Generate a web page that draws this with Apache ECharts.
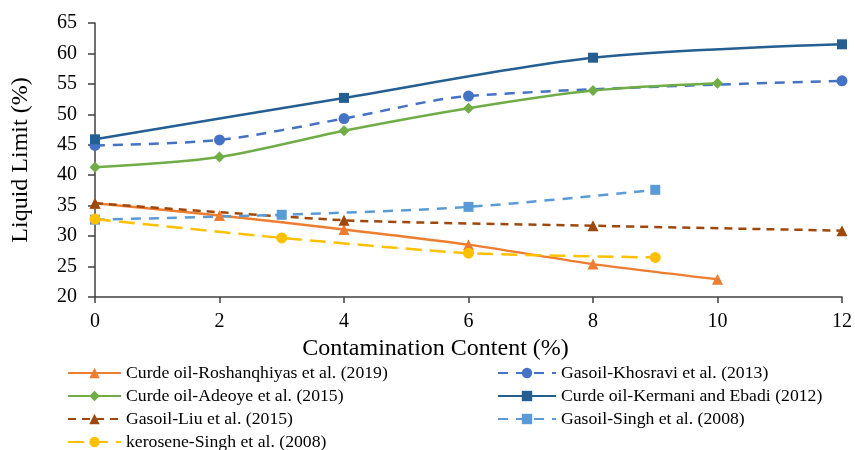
<!DOCTYPE html>
<html><head><meta charset="utf-8">
<script src="https://cdn.jsdelivr.net/npm/echarts@6/dist/echarts.min.js"></script>
<style>html,body{margin:0;padding:0;background:#fff}#c{width:855px;height:450px}</style>
</head><body><div id="c"></div>
<script>
const xTicks = [0, 2, 4, 6, 8, 10, 12];
const yTicks = [20, 25, 30, 35, 40, 45, 50, 55, 60, 65];

const roshanX = [0, 2, 4, 6, 8, 10];
const roshanY = [35.4, 33.4, 31.1, 28.6, 25.4, 22.9];
const khosraviX = [0, 2, 4, 6, 12];
const khosraviY = [44.9, 45.8, 49.3, 53.0, 55.5];
const adeoyeX = [0, 2, 4, 6, 8, 10];
const adeoyeY = [41.3, 43.0, 47.3, 51.0, 53.9, 55.1];
const kermaniX = [0, 4, 8, 12];
const kermaniY = [45.9, 52.7, 59.3, 61.5];
const liuX = [0, 4, 8, 12];
const liuY = [35.4, 32.6, 31.7, 30.9];
const singhGasX = [0, 3, 6, 9];
const singhGasY = [32.7, 33.5, 34.8, 37.6];
const keroX = [0, 3, 6, 9];
const keroY = [32.8, 29.7, 27.2, 26.5];

const names = [
  'Curde oil-Roshanqhiyas et al. (2019)',
  'Gasoil-Khosravi et al. (2013)',
  'Curde oil-Adeoye et al. (2015)',
  'Curde oil-Kermani and Ebadi (2012)',
  'Gasoil-Liu et al. (2015)',
  'Gasoil-Singh et al. (2008)',
  'kerosene-Singh et al. (2008)'
];

function pts(xs, ys) { return xs.map((x, i) => [x, ys[i]]); }

const font = 'Liberation Serif';
function mk(name, xs, ys, color, symbol, size, dashed, smooth, dashArr) {
  return {
    name, type: 'line', data: pts(xs, ys), smooth: smooth,
    symbol, symbolSize: size, showSymbol: true,
    itemStyle: { color },
    lineStyle: { color, width: 2.5, type: dashed ? dashArr : 'solid' },
    emphasis: { disabled: true }
  };
}

const chart = echarts.init(document.getElementById('c'));
chart.setOption({
  animation: false,
  backgroundColor: '#fff',
  grid: { left: 95, right: 12, top: 23, bottom: 153 },
  xAxis: {
    type: 'value', min: 0, max: 12, interval: 2,
    name: 'Contamination Content (%)', nameLocation: 'middle', nameGap: 32,
    nameTextStyle: { fontFamily: font, fontSize: 24, color: '#000', padding: [0, 66, 0, 0] },
    axisLine: { show: true, lineStyle: { color: '#404040', width: 1.5 } },
    axisTick: { show: true, length: 6, lineStyle: { color: '#404040', width: 1.5 } },
    axisLabel: { fontFamily: font, fontSize: 20, color: '#000', margin: 15 },
    splitLine: { show: false }
  },
  yAxis: {
    type: 'value', min: 20, max: 65, interval: 5,
    name: 'Liquid Limit (%)', nameLocation: 'middle', nameGap: 62,
    nameTextStyle: { fontFamily: font, fontSize: 24, color: '#000' },
    axisLine: { show: true, lineStyle: { color: '#404040', width: 1.5 } },
    axisTick: { show: true, length: 7, lineStyle: { color: '#404040', width: 1.5 } },
    axisLabel: { fontFamily: font, fontSize: 20, color: '#000', margin: 18 },
    splitLine: { show: false }
  },
  legend: [
    {
      left: 62, top: 359, height: 120, orient: 'vertical', itemGap: 5, itemWidth: 53, itemHeight: 13,
      data: [names[0], names[2], names[4], names[6]],
      textStyle: { fontFamily: font, fontSize: 17.7, color: '#000' }
    },
    {
      left: 492, top: 359, height: 120, orient: 'vertical', itemGap: 5, itemWidth: 58, itemHeight: 13,
      data: [names[1], names[3], names[5]],
      textStyle: { fontFamily: font, fontSize: 17.7, color: '#000' }
    }
  ],
  series: [
    mk(names[0], roshanX, roshanY, '#ED7D31', 'triangle', 11, false, 0.2),
    mk(names[1], khosraviX, khosraviY, '#4472C4', 'circle', 11, true, 0.3, [10, 8]),
    mk(names[2], adeoyeX, adeoyeY, '#70AD47', 'diamond', 11, false, 0.3),
    mk(names[3], kermaniX, kermaniY, '#255E91', 'rect', 10, false, 0.3),
    mk(names[4], liuX, liuY, '#9E480E', 'triangle', 11, true, 0.2, [8, 6]),
    mk(names[5], singhGasX, singhGasY, '#5B9BD5', 'rect', 10, true, 0.3, [10, 8]),
    mk(names[6], keroX, keroY, '#FFC000', 'circle', 11, true, 0.2, [16, 8])
  ]
});
</script></body></html>
